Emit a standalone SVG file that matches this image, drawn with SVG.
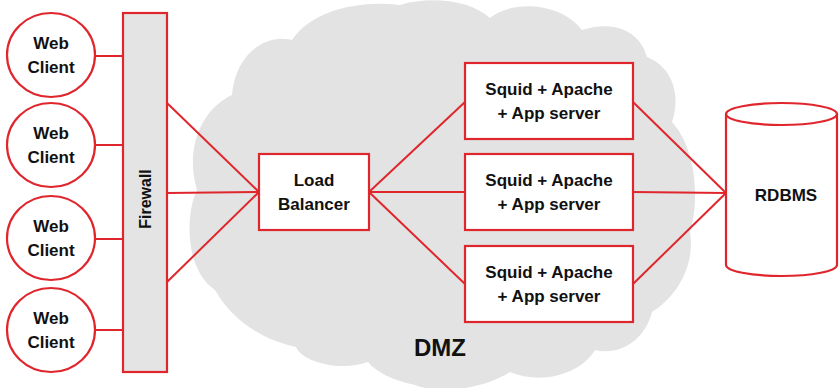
<svg xmlns="http://www.w3.org/2000/svg" width="839" height="388" viewBox="0 0 839 388">
<style>
.ln{stroke:#e0262d;stroke-width:2;fill:none}
.nd{stroke:#e0262d;stroke-width:2.2;fill:#ffffff}
.fw{stroke:#e0262d;stroke-width:2.2;fill:#e4e4e4}
.t{font-family:"Liberation Sans",Arial,sans-serif;font-weight:bold;font-size:17px;fill:#111;text-anchor:middle}
</style>
<rect width="839" height="388" fill="#ffffff"/>
<g id="dmz">
<path fill="#e3e3e3" d="M215,290 C185,270 185,215 197,190 C185,150 200,110 232,95 C235,55 265,33 292,40 C312,10 360,0 400,5 C430,-4 470,0 490,18 C512,0 560,2 582,30 C612,20 640,30 647,57 C670,66 682,92 672,122 C696,148 700,200 690,232 C696,270 672,300 652,312 C645,340 620,356 595,350 C580,375 540,385 510,372 C482,390 438,394 415,385 C392,380 376,372 368,362 C340,372 302,362 296,347 C262,340 232,320 215,290 Z"/>
<text class="t" x="440" y="356" style="font-size:24px">DMZ</text>
</g>
<g id="connectors">
<line class="ln" x1="95" y1="56" x2="123" y2="56"/>
<line class="ln" x1="95" y1="145" x2="123" y2="145"/>
<line class="ln" x1="95" y1="239" x2="123" y2="239"/>
<line class="ln" x1="95" y1="330" x2="123" y2="330"/>
<line class="ln" x1="167" y1="103" x2="259" y2="192"/>
<line class="ln" x1="167" y1="193" x2="259" y2="192"/>
<line class="ln" x1="167" y1="282" x2="259" y2="192"/>
<line class="ln" x1="369" y1="192" x2="465" y2="102"/>
<line class="ln" x1="369" y1="192" x2="465" y2="192"/>
<line class="ln" x1="369" y1="192" x2="465" y2="284"/>
<line class="ln" x1="633" y1="102" x2="726" y2="193"/>
<line class="ln" x1="633" y1="192" x2="726" y2="193"/>
<line class="ln" x1="633" y1="284" x2="726" y2="193"/>
</g>
<g id="client1">
<ellipse class="nd" cx="51" cy="55" rx="44" ry="42"/>
<text class="t" x="51" y="49">Web</text><text class="t" x="51" y="73">Client</text>
</g>
<g id="client2">
<ellipse class="nd" cx="51" cy="145" rx="44" ry="42"/>
<text class="t" x="51" y="139">Web</text><text class="t" x="51" y="163">Client</text>
</g>
<g id="client3">
<ellipse class="nd" cx="51" cy="238" rx="44" ry="42"/>
<text class="t" x="51" y="232">Web</text><text class="t" x="51" y="256">Client</text>
</g>
<g id="client4">
<ellipse class="nd" cx="51" cy="330" rx="44" ry="42"/>
<text class="t" x="51" y="324">Web</text><text class="t" x="51" y="348">Client</text>
</g>
<g id="firewall">
<rect class="fw" x="123" y="13" width="44" height="359"/>
<text class="t" x="0" y="0" style="font-size:16px" transform="translate(151,199) rotate(-90)">Firewall</text>
</g>
<g id="loadbalancer">
<rect class="nd" x="259" y="154" width="110" height="76"/>
<text class="t" x="314" y="186">Load</text><text class="t" x="314" y="210">Balancer</text>
</g>
<g id="server1">
<rect class="nd" x="465" y="63" width="168" height="76"/>
<text class="t" x="549" y="95">Squid + Apache</text><text class="t" x="549" y="119">+ App server</text>
</g>
<g id="server2">
<rect class="nd" x="465" y="154" width="168" height="76"/>
<text class="t" x="549" y="186">Squid + Apache</text><text class="t" x="549" y="210">+ App server</text>
</g>
<g id="server3">
<rect class="nd" x="465" y="246" width="168" height="76"/>
<text class="t" x="549" y="278">Squid + Apache</text><text class="t" x="549" y="302">+ App server</text>
</g>
<g id="rdbms">
<path class="nd" d="M726,114 L726,265 A55.5,11 0 0 0 837,265 L837,114"/>
<ellipse class="nd" cx="781.5" cy="114" rx="55.5" ry="11"/>
<text class="t" x="786" y="201">RDBMS</text>
</g>
</svg>
